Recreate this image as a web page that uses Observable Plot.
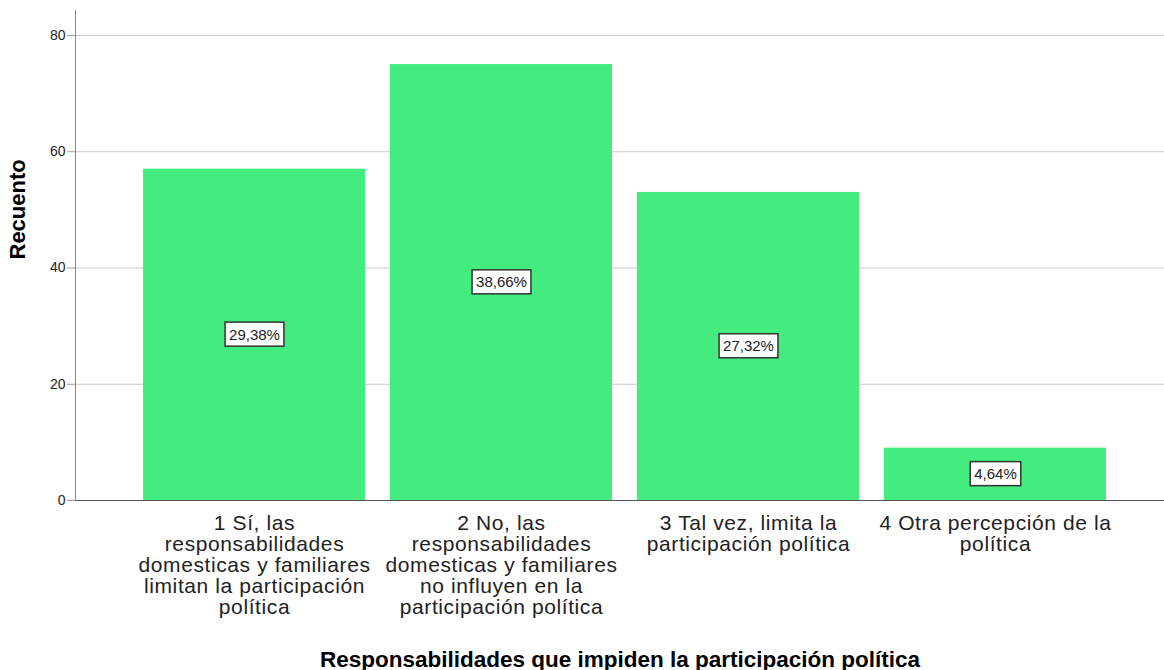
<!DOCTYPE html>
<html>
<head>
<meta charset="utf-8">
<script src="https://cdn.jsdelivr.net/npm/d3@7"></script>
<script src="https://cdn.jsdelivr.net/npm/@observablehq/plot@0.6"></script>
<style>
  html, body { margin: 0; padding: 0; background: white; }
  g[aria-label="x-axis tick label"] text { letter-spacing: 0.6px; }
</style>
</head>
<body>
<script>
const categories = ["1", "2", "3", "4"];
const tickLabels = [
  "1 Sí, las\nresponsabilidades\ndomesticas y familiares\nlimitan la participación\npolítica",
  "2 No, las\nresponsabilidades\ndomesticas y familiares\nno influyen en la\nparticipación política",
  "3 Tal vez, limita la\nparticipación política",
  "4 Otra percepción de la\npolítica"
];
const counts = [57, 75, 53, 9];
const pctLabels = ["29,38%", "38,66%", "27,32%", "4,64%"];
const yTicks = [0, 20, 40, 60, 80];
const xTitle = "Responsabilidades que impiden la participación política";
const yTitle = "Recuento";

const data = categories.map((c, i) => ({cat: c, count: counts[i], pct: pctLabels[i]}));

const chart = Plot.plot({
  width: 1164,
  height: 670,
  marginLeft: 75,
  marginRight: 0,
  marginTop: 10,
  marginBottom: 170,
  style: {fontFamily: "'Liberation Sans', Arial, sans-serif", background: "white", color: "#222"},
  x: {domain: categories, paddingInner: 0.101, paddingOuter: 0.253, align: 0.5375, axis: null},
  y: {domain: [0, 84.3], axis: null},
  marks: [
    Plot.gridY(yTicks.slice(1), {stroke: "#c8c8c8", strokeOpacity: 1}),
    Plot.barY(data, {x: "cat", y: "count", fill: "#44EB7E"}),
    Plot.ruleY([0], {stroke: "#555"}),
    Plot.axisY(yTicks, {tickSize: 8, tickPadding: 2, fontSize: 14, stroke: "#999", label: null, tickFormat: d => String(d)}),
    Plot.frame({anchor: "left", stroke: "#888"}),
    Plot.axisX({tickSize: 0, tickPadding: 15, fontSize: 21, lineHeight: 1.0, label: null,
      tickFormat: d => tickLabels[categories.indexOf(d)]}),
    Plot.text(data, {x: "cat", y: d => d.count / 2, text: "pct", fontSize: 15, fill: "#222"}),
    Plot.text([xTitle], {text: d => d, frameAnchor: "bottom", lineAnchor: "bottom", dy: 166, fontSize: 22.5, fontWeight: "bold", fill: "#000"}),
    Plot.text([yTitle], {text: d => d, frameAnchor: "left", rotate: -90, dx: -57.5, dy: 4, fontSize: 22, fontWeight: "bold", fill: "#000"})
  ]
});
document.body.appendChild(chart);

// white boxes behind percentage labels
const pctSet = new Set(pctLabels);
chart.querySelectorAll("text").forEach(t => {
  if (!pctSet.has(t.textContent)) return;
  const b = t.getBBox();
  const r = document.createElementNS("http://www.w3.org/2000/svg", "rect");
  r.setAttribute("x", b.x - 4);
  r.setAttribute("y", b.y - 3.5);
  r.setAttribute("width", b.width + 8);
  r.setAttribute("height", b.height + 7);
  r.setAttribute("fill", "white");
  r.setAttribute("stroke", "#333");
  r.setAttribute("stroke-width", 1.5);
  const tr = t.getAttribute("transform");
  if (tr) r.setAttribute("transform", tr);
  t.parentNode.insertBefore(r, t);
});
</script>
</body>
</html>
